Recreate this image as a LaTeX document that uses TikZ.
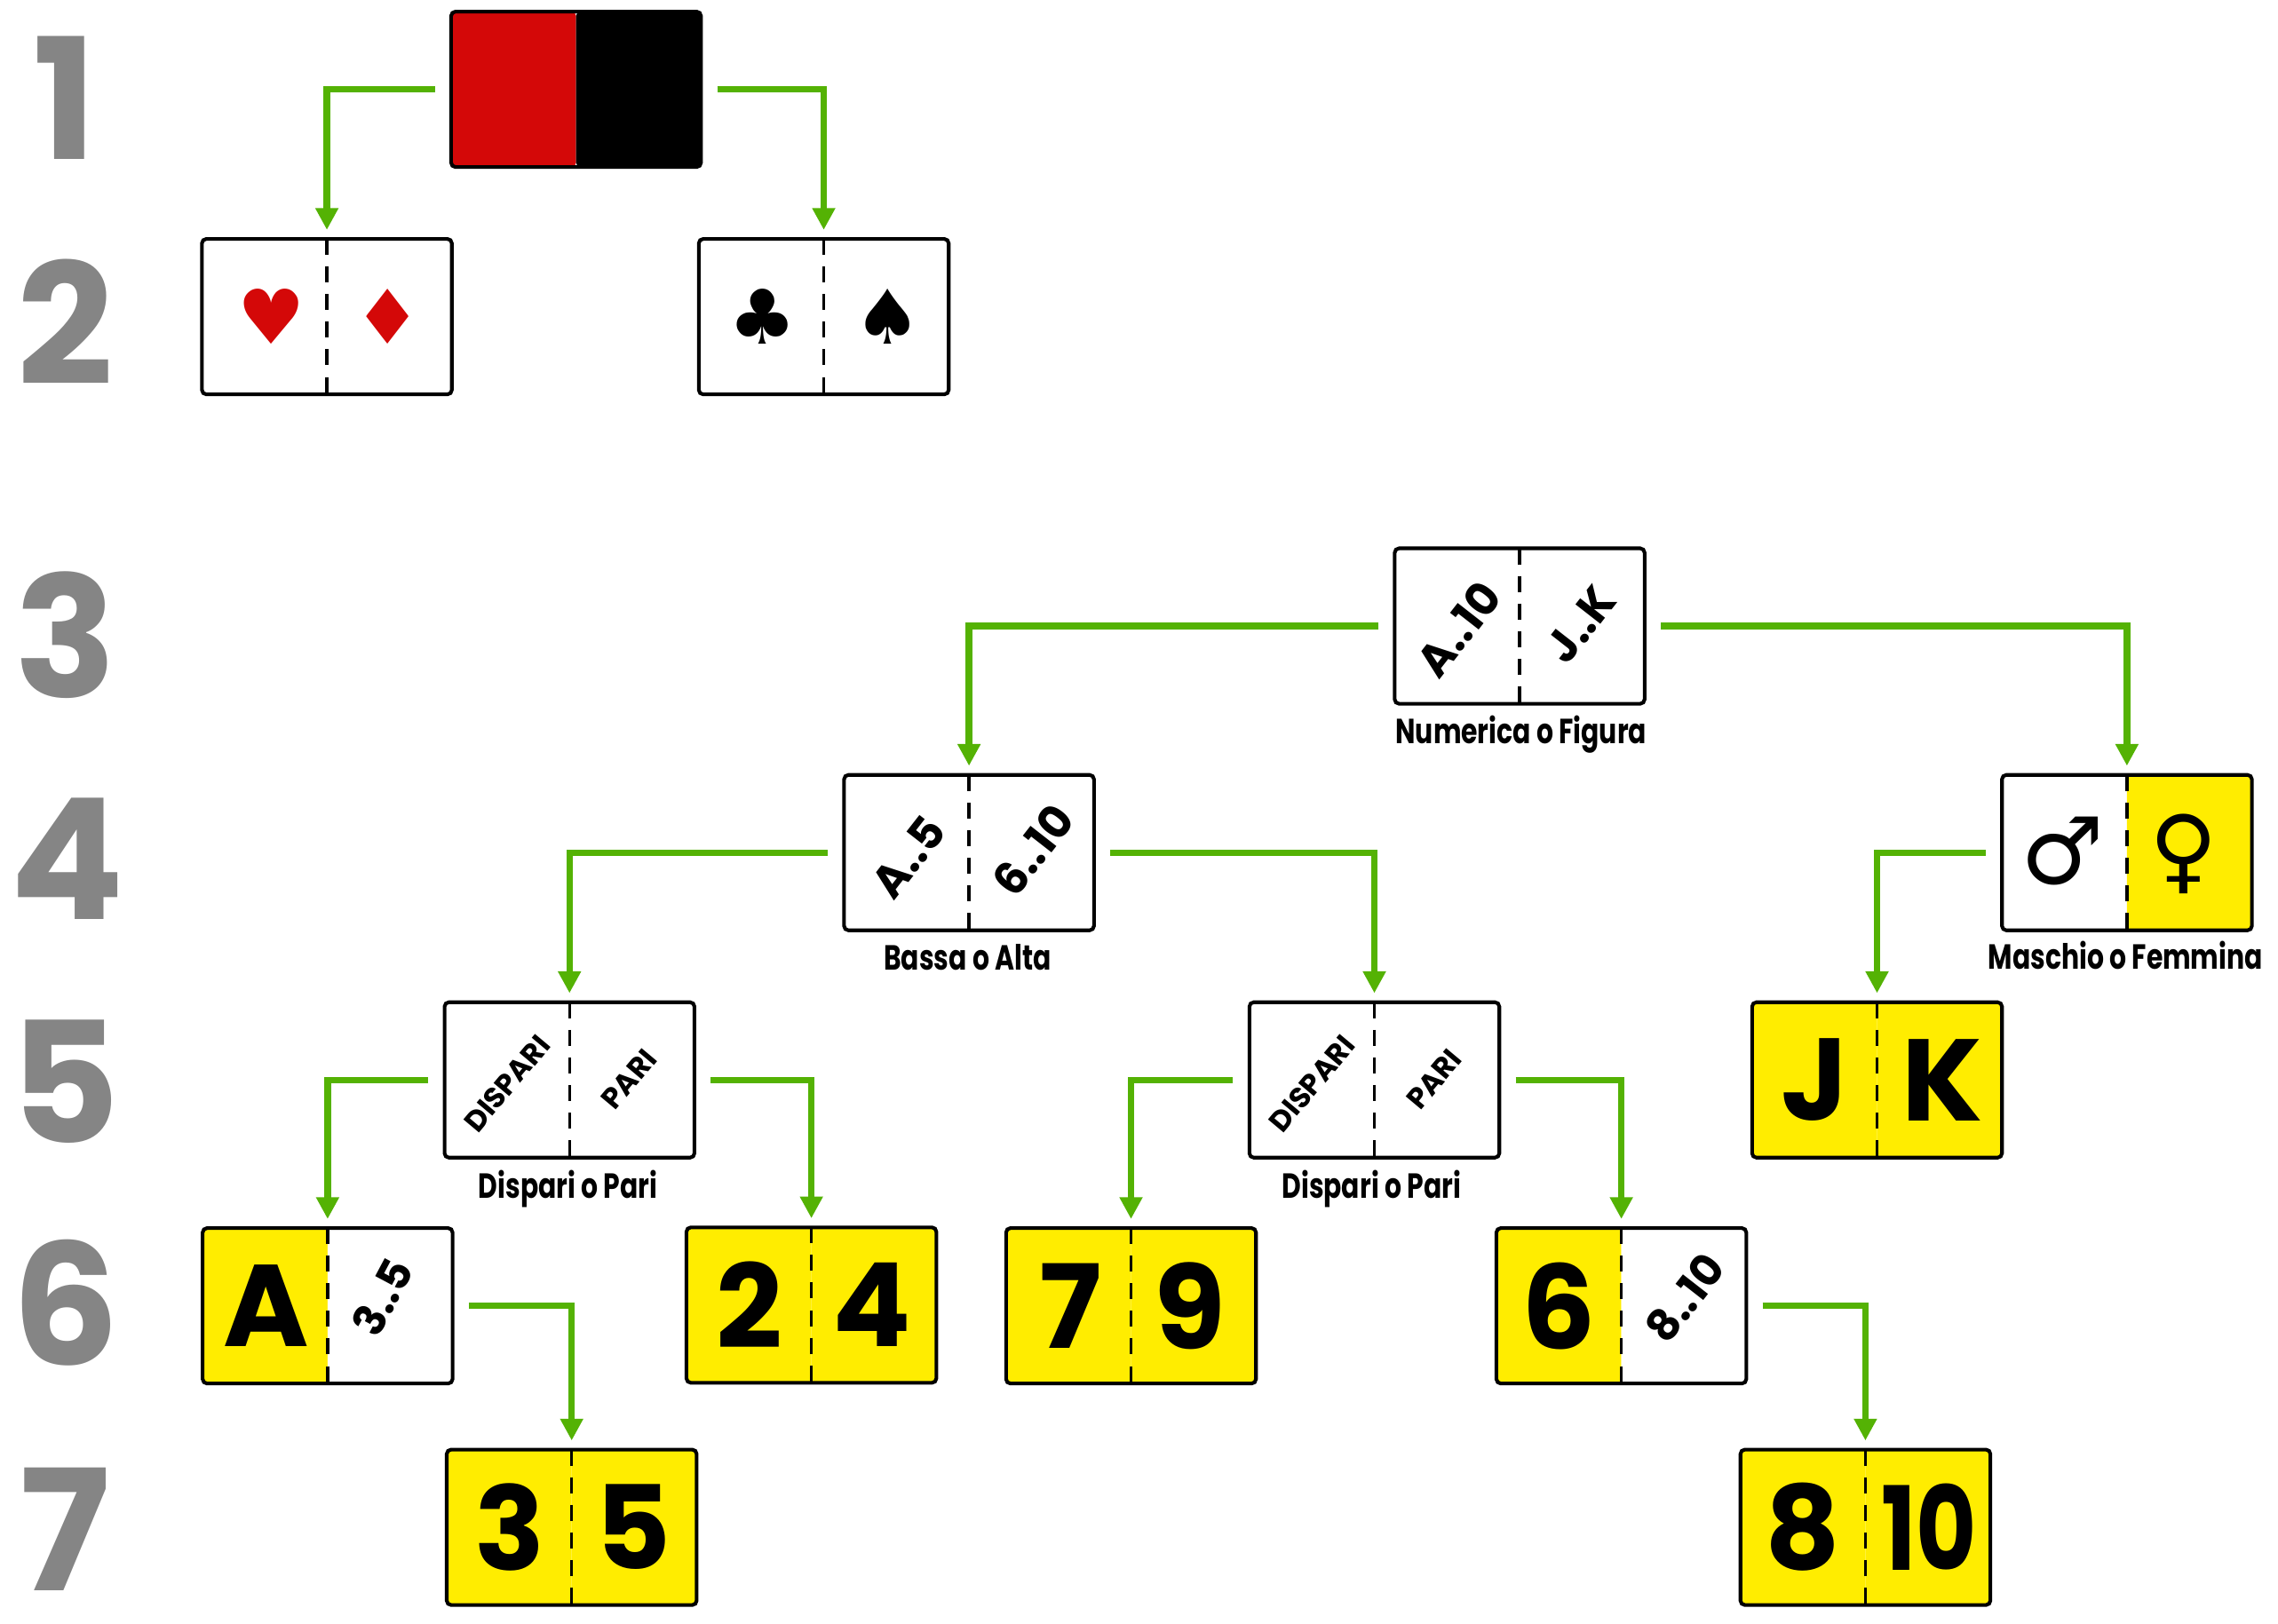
\documentclass[tikz,border=0pt]{standalone}
\usepackage{fontspec}
\usepackage{tikz}
\usetikzlibrary{arrows.meta}
\setmainfont{Poppins}
\newfontfamily\labelfont{Poppins}[FakeStretch=0.76]
\newfontfamily\suitfont{DejaVu Sans}
\definecolor{cardyellow}{RGB}{255,237,0}
\definecolor{cardred}{RGB}{212,8,8}
\definecolor{linkgreen}{RGB}{84,178,4}
\definecolor{rowgrey}{RGB}{133,133,133}

\begin{document}
\begin{tikzpicture}[x=100pt, y=-100pt,
    card/.style={draw, line width=2.5pt, rounded corners=3pt, minimum width=172pt, minimum height=107pt, inner sep=0pt},
    halves/.style 2 args={card, path picture={
        \fill[#1] (path picture bounding box.south west) rectangle (path picture bounding box.north);
        \fill[#2] (path picture bounding box.north) rectangle (path picture bounding box.north east |- path picture bounding box.south);
        \draw[line width=2pt, dash pattern=on 11pt off 8pt] (path picture bounding box.north) -- (path picture bounding box.south);}},
    flagcard/.style={card, path picture={
        \fill[cardred] (path picture bounding box.south west) rectangle (path picture bounding box.north);
        \fill[black] (path picture bounding box.north) rectangle (path picture bounding box.south east);}},
    rowno/.style={anchor=base, inner sep=0pt, text=rowgrey, font=\fontsize{116}{116}\selectfont\bfseries},
    bigtext/.style={font=\fontsize{80}{80}\selectfont\bfseries, inner sep=0pt},
    rangetext/.style={rotate=52, font=\fontsize{31}{31}\selectfont\bfseries, inner sep=0pt},
    wordtext/.style={rotate=50, font=\fontsize{20}{20}\selectfont\bfseries, inner sep=0pt},
    suittext/.style={font=\fontsize{52}{52}\selectfont\suitfont, inner sep=0pt},
    captiontext/.style={anchor=base, font=\fontsize{24}{24}\selectfont\labelfont\bfseries},
    link/.style={draw=linkgreen, line width=4.5pt, -{Triangle[width=15pt,length=15pt]}, shorten <=10pt, shorten >=5pt}]
    \useasboundingbox (0, 0) rectangle (15.680, 11.180);

    % row numbers
    \node[rowno] (r1) at (0.450, 1.100) {1};
    \node[rowno] (r2) at (0.450, 2.650) {2};
    \node[rowno] (r3) at (0.450, 4.800) {3};
    \node[rowno] (r4) at (0.460, 6.330) {4};
    \node[rowno] (r5) at (0.450, 7.870) {5};
    \node[rowno] (r6) at (0.450, 9.400) {6};
    \node[rowno] (r7) at (0.450, 10.950) {7};

    % cards
    \node[flagcard] (c1) at (3.965, 0.615) {};
    \node[halves={white}{white}] (c2a) at (2.250, 2.180) {};
    \node[halves={white}{white}] (c2b) at (5.670, 2.180) {};
    \node[halves={white}{white}] (c3) at (10.460, 4.310) {};
    \node[halves={white}{white}] (c4a) at (6.670, 5.870) {};
    \node[halves={white}{cardyellow}] (c4b) at (14.640, 5.870) {};
    \node[halves={white}{white}] (c5a) at (3.920, 7.435) {};
    \node[halves={white}{white}] (c5b) at (9.460, 7.435) {};
    \node[halves={cardyellow}{cardyellow}] (c5c) at (12.920, 7.435) {};
    \node[halves={cardyellow}{white}] (c6a) at (2.255, 8.990) {};
    \node[halves={cardyellow}{cardyellow}] (c6b) at (5.585, 8.985) {};
    \node[halves={cardyellow}{cardyellow}] (c6c) at (7.785, 8.990) {};
    \node[halves={cardyellow}{white}] (c6d) at (11.160, 8.990) {};
    \node[halves={cardyellow}{cardyellow}] (c7a) at (3.935, 10.515) {};
    \node[halves={cardyellow}{cardyellow}] (c7b) at (12.840, 10.515) {};

    % what the halves say
    \node[suittext, text=cardred] (c2a_l) at (1.870, 2.180) {♥};
    \node[suittext, text=cardred] (c2a_r) at (2.670, 2.180) {♦};
    \node[suittext] (c2b_l) at (5.250, 2.180) {♣};
    \node[suittext] (c2b_r) at (6.110, 2.180) {♠};
    \node[rangetext] (c3_l) at (10.040, 4.330) {A..10};
    \node[rangetext] (c3_r) at (10.880, 4.300) {J..K};
    \node[rangetext] (c4a_l) at (6.250, 5.900) {A..5};
    \node[rangetext] (c4a_r) at (7.110, 5.850) {6..10};
    \node[suittext, font=\fontsize{64}{64}\selectfont\suitfont] (c4b_l) at (14.200, 5.860) {♂};
    \node[suittext, font=\fontsize{64}{64}\selectfont\suitfont] (c4b_r) at (15.030, 5.880) {♀};
    \node[wordtext] (c5a_l) at (3.490, 7.460) {DISPARI};
    \node[wordtext] (c5a_r) at (4.330, 7.430) {PARI};
    \node[wordtext] (c5b_l) at (9.030, 7.460) {DISPARI};
    \node[wordtext] (c5b_r) at (9.870, 7.430) {PARI};
    \node[bigtext] (c5c_l) at (12.490, 7.435) {J};
    \node[bigtext] (c5c_r) at (13.370, 7.435) {K};
    \node[bigtext] (c6a_l) at (1.830, 8.990) {A};
    \node[rangetext, rotate=10, font=\fontsize{30}{30}\selectfont\bfseries] (c6a_r) at (2.630, 8.930) {3..5};
    \node[bigtext] (c6b_l) at (5.160, 8.985) {2};
    \node[bigtext] (c6b_r) at (6.000, 8.985) {4};
    \node[bigtext] (c6c_l) at (7.370, 8.990) {7};
    \node[bigtext] (c6c_r) at (8.190, 8.990) {9};
    \node[bigtext] (c6d_l) at (10.730, 8.990) {6};
    \node[rangetext, font=\fontsize{30}{30}\selectfont\bfseries] (c6d_r) at (11.600, 8.935) {8..10};
    \node[bigtext] (c7a_l) at (3.510, 10.515) {3};
    \node[bigtext] (c7a_r) at (4.360, 10.515) {5};
    \node[bigtext] (c7b_l) at (12.410, 10.515) {8};
    \node[bigtext, xscale=0.8] (c7b_r) at (13.280, 10.515) {10};

    % captions
    \node[captiontext] (lab3) at (10.470, 5.120) {Numerica o Figura};
    \node[captiontext] (lab4a) at (6.660, 6.680) {Bassa o Alta};
    \node[captiontext] (lab4b) at (14.630, 6.670) {Maschio o Femmina};
    \node[captiontext] (lab5a) at (3.910, 8.250) {Dispari o Pari};
    \node[captiontext] (lab5b) at (9.440, 8.250) {Dispari o Pari};

    \draw[link] (c1.west) -| (c2a.north);
    \draw[link] (c1.east) -| (c2b.north);
    \draw[link] (c3.west) -| (c4a.north);
    \draw[link] (c3.east) -| (c4b.north);
    \draw[link] (c4a.west) -| (c5a.north);
    \draw[link] (c4a.east) -| (c5b.north);
    \draw[link] (c4b.west) -| (c5c.north);
    \draw[link] (c5a.west) -| (c6a.north);
    \draw[link] (c5a.east) -| (c6b.north);
    \draw[link] (c5b.west) -| (c6c.north);
    \draw[link] (c5b.east) -| (c6d.north);
    \draw[link] (c6a.east) -| (c7a.north);
    \draw[link] (c6d.east) -| (c7b.north);
\end{tikzpicture}
\end{document}
